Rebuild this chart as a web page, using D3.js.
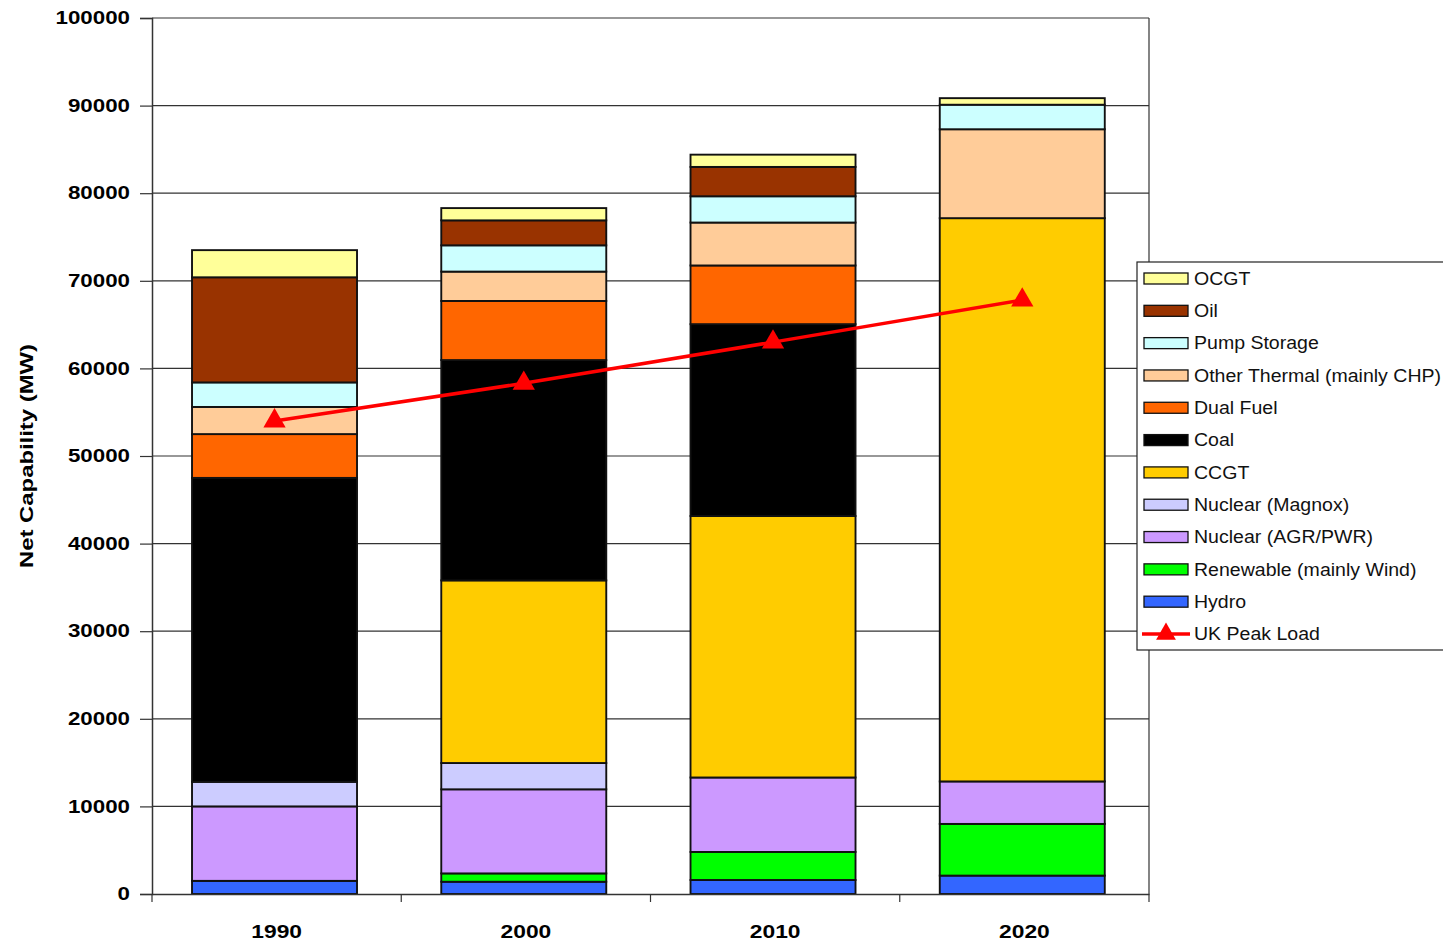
<!DOCTYPE html>
<html>
<head>
<meta charset="utf-8">
<script src="https://cdn.jsdelivr.net/npm/d3@7"></script>
<style>
  html, body { margin: 0; padding: 0; background: #fff; }
  svg { display: block; font-family: "Liberation Sans", Arial, sans-serif; }
</style>
</head>
<body>
<svg id="chart" width="1443" height="945"></svg>
<script>
// ---- Data ----
const years = ["1990", "2000", "2010", "2020"];
const hydro      = [1500, 1400, 1600, 2100];
const renewable  = [0, 950, 3200, 5900];
const nuclearAGR = [8500, 9600, 8500, 4850];
const magnox     = [2800, 3000, 0, 0];
const ccgt       = [0, 20850, 29850, 64300];
const coal       = [34700, 25150, 21900, 0];
const dualFuel   = [5000, 6750, 6700, 0];
const otherTherm = [3100, 3350, 4900, 10150];
const pumpStore  = [2800, 3000, 3000, 2800];
const oil        = [12000, 2850, 3350, 0];
const ocgt       = [3100, 1400, 1400, 750];
const peakLoad   = [54000, 58300, 63000, 67800];
const yTicks     = [0, 10000, 20000, 30000, 40000, 50000, 60000, 70000, 80000, 90000, 100000];

// stacking order bottom -> top
const seriesNames  = ["Hydro", "Renewable (mainly Wind)", "Nuclear (AGR/PWR)", "Nuclear (Magnox)", "CCGT", "Coal", "Dual Fuel", "Other Thermal (mainly CHP)", "Pump Storage", "Oil", "OCGT"];
const seriesValues = [hydro, renewable, nuclearAGR, magnox, ccgt, coal, dualFuel, otherTherm, pumpStore, oil, ocgt];
const seriesColors = ["#3366FF", "#00FF00", "#CC99FF", "#CCCCFF", "#FFCC00", "#000000", "#FF6600", "#FFCC99", "#CCFFFF", "#993300", "#FFFF99"];

// ---- Layout ----
const svg = d3.select("#chart");
const L = 152, R = 1149, T = 18, B = 894;

const x = d3.scaleBand().domain(years).range([L, R]).paddingInner(0.338).paddingOuter(0.169).align(0.475);
const xc = d3.scaleBand().domain(years).range([L, R]); // full bands for ticks
const y = d3.scaleLinear().domain([0, 100000]).range([B, T]);

// table for stack
const table = years.map((yr, i) => {
  const row = { year: yr };
  seriesNames.forEach((n, k) => row[n] = seriesValues[k][i]);
  return row;
});
const stacked = d3.stack().keys(seriesNames)(table);

// gridlines
svg.append("g").selectAll("line").data(yTicks.filter(d => d > 0)).join("line")
  .attr("x1", L).attr("x2", R)
  .attr("y1", d => y(d)).attr("y2", d => y(d))
  .attr("stroke", "#333").attr("stroke-width", 1.2);

// right border
svg.append("line").attr("x1", R).attr("x2", R).attr("y1", T).attr("y2", B)
  .attr("stroke", "#333").attr("stroke-width", 1.2);

// bars
const gBars = svg.append("g");
stacked.forEach((s, k) => {
  gBars.append("g").selectAll("rect").data(s.filter(d => d[1] - d[0] > 0)).join("rect")
    .attr("x", d => x(d.data.year))
    .attr("width", x.bandwidth())
    .attr("y", d => y(d[1]))
    .attr("height", d => y(d[0]) - y(d[1]))
    .attr("fill", seriesColors[k])
    .attr("stroke", "#111")
    .attr("stroke-width", 1.9);
});

// y axis
const yAxis = d3.axisLeft(y).tickValues(yTicks).tickSize(12).tickPadding(10).tickFormat(d3.format("d"));
const gy = svg.append("g").attr("transform", `translate(${L},0)`).call(yAxis);
gy.select(".domain").attr("stroke", "#333").attr("stroke-width", 1.5);
gy.selectAll(".tick line").attr("stroke", "#333").attr("stroke-width", 1.2);
gy.selectAll(".tick text").attr("font-size", 18).attr("font-weight", "bold")
  .attr("font-family", "Liberation Sans, Arial, sans-serif").attr("fill", "#000");

// x axis
const xAxis = d3.axisBottom(xc).tickSize(0).tickPadding(31);
const gx = svg.append("g").attr("transform", `translate(0,${B})`).call(xAxis);
gx.select(".domain").attr("stroke", "#333").attr("stroke-width", 1.5);
gx.selectAll(".tick text").attr("font-size", 19).attr("font-weight", "bold")
  .attr("font-family", "Liberation Sans, Arial, sans-serif").attr("fill", "#000");
// band boundary ticks
const boundaries = years.map(yv => xc(yv) + xc.bandwidth()).concat([xc(years[0])]);
svg.append("g").selectAll("line").data(boundaries).join("line")
  .attr("x1", d => d).attr("x2", d => d).attr("y1", B).attr("y2", B + 8)
  .attr("stroke", "#333").attr("stroke-width", 1.2);

// stretch text horizontally (reference is wide)
function stretch(sel, f) {
  sel.each(function () {
    const len = this.getComputedTextLength();
    d3.select(this).attr("textLength", len * f).attr("lengthAdjust", "spacingAndGlyphs");
  });
}
stretch(gy.selectAll(".tick text"), 1.24);
stretch(gx.selectAll(".tick text"), 1.2);

// peak load line
const cx = i => x(years[i]) + x.bandwidth() / 2;
const line = d3.line().x((d, i) => cx(i)).y(d => y(d));
svg.append("path").datum(peakLoad).attr("d", line)
  .attr("fill", "none").attr("stroke", "#FF0000").attr("stroke-width", 3.5);
const tri = d3.symbol().type(d3.symbolTriangle).size(215);
svg.append("g").selectAll("path").data(peakLoad).join("path")
  .attr("transform", (d, i) => `translate(${cx(i)},${y(d)})`)
  .attr("d", tri).attr("fill", "#FF0000");

// y label
svg.append("text")
  .attr("transform", `translate(33,${(T + B) / 2}) rotate(-90)`)
  .attr("text-anchor", "middle")
  .attr("font-size", 19).attr("font-weight", "bold").attr("fill", "#000")
  .attr("textLength", 224).attr("lengthAdjust", "spacingAndGlyphs")
  .text("Net Capability (MW)");

// legend
const legendItems = seriesNames.map((n, k) => ({ name: n, color: seriesColors[k] })).reverse();
const lg = svg.append("g");
lg.append("rect").attr("x", 1137).attr("y", 262).attr("width", 330).attr("height", 388)
  .attr("fill", "#fff").attr("stroke", "#222").attr("stroke-width", 1.2);
const rowY = d3.scalePoint().domain(legendItems.map(d => d.name).concat(["UK Peak Load"])).range([278.5, 634]);
legendItems.forEach(it => {
  lg.append("rect").attr("x", 1144).attr("y", rowY(it.name) - 5.5).attr("width", 44).attr("height", 11)
    .attr("fill", it.color).attr("stroke", "#111").attr("stroke-width", 1.3);
});
lg.append("line").attr("x1", 1142).attr("x2", 1190).attr("y1", rowY("UK Peak Load")).attr("y2", rowY("UK Peak Load"))
  .attr("stroke", "#FF0000").attr("stroke-width", 3.5);
lg.append("path").attr("transform", `translate(1166,${rowY("UK Peak Load")})`)
  .attr("d", d3.symbol().type(d3.symbolTriangle).size(170)).attr("fill", "#FF0000");
const ltexts = lg.selectAll("text.leg").data(legendItems.map(d => d.name).concat(["UK Peak Load"])).join("text")
  .attr("class", "leg")
  .attr("x", 1194).attr("y", d => rowY(d)).attr("dy", "0.36em")
  .attr("font-size", 17.5).attr("fill", "#111")
  .text(d => d);
// scale factor so the longest entry spans ~247px
let ref = 0;
ltexts.each(function (d) { if (d.startsWith("Other")) ref = this.getComputedTextLength(); });
stretch(ltexts, 247 / ref);
</script>
</body>
</html>
